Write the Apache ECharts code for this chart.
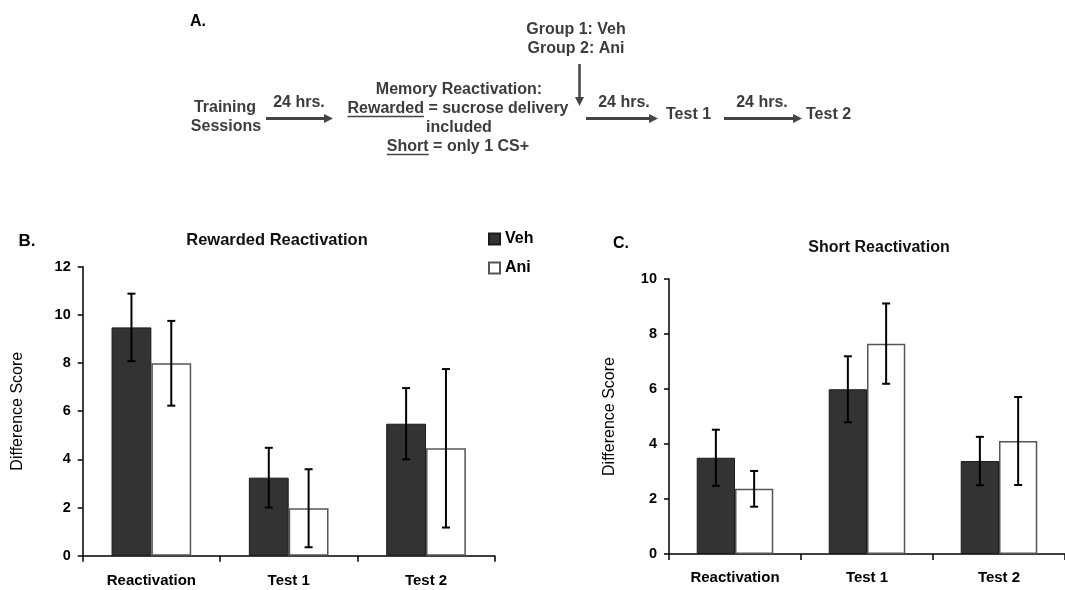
<!DOCTYPE html>
<html>
<head>
<meta charset="utf-8">
<script src="https://cdn.jsdelivr.net/npm/echarts@6/dist/echarts.min.js"></script>
<style>html,body{margin:0;padding:0;background:#fff}#c{width:1065px;height:590px}</style>
</head>
<body>
<div id="c"></div>
<script>
// ---- data ----
const categories = ['Reactivation', 'Test 1', 'Test 2'];
const rewardedVeh = [9.48, 3.24, 5.48];
const rewardedVehErr = [1.4, 1.24, 1.48];
const rewardedAni = [7.99, 1.97, 4.46];
const rewardedAniErr = [1.76, 1.62, 3.29];
const shortVeh = [3.5, 5.99, 3.38];
const shortVehErr = [1.02, 1.2, 0.88];
const shortAni = [2.37, 7.65, 4.11];
const shortAniErr = [0.65, 1.46, 1.6];
const rewardedTicks = {min: 0, max: 12, interval: 2};
const shortTicks = {min: 0, max: 10, interval: 2};

const FONT = '"Liberation Sans", Arial, sans-serif';
const GAP = 0.42;
const chart = echarts.init(document.getElementById('c'), null, {renderer: 'canvas'});

const mctx = document.createElement('canvas').getContext('2d');
function measure(text, size) { mctx.font = 'bold ' + size + 'px ' + FONT; return mctx.measureText(text).width; }

function errData(vals, errs) { return vals.map((v, i) => [i, v, errs[i]]); }
function errSeries(name, idx, vals, errs, sign) {
  return {
    type: 'custom', name: name + ' err', xAxisIndex: idx, yAxisIndex: idx, z: 5,
    data: errData(vals, errs),
    renderItem: function (params, api) {
      const ci = api.value(0), v = api.value(1), e = api.value(2);
      const band = api.size([1, 0])[0];
      const bw = band * (1 - GAP) / 2;
      const x = api.coord([ci, v])[0] + sign * bw / 2;
      const yt = api.coord([ci, v + e])[1];
      const yb = api.coord([ci, v - e])[1];
      const st = {stroke: '#000', lineWidth: 2};
      return {type: 'group', children: [
        {type: 'line', shape: {x1: x, y1: yt, x2: x, y2: yb}, style: st},
        {type: 'line', shape: {x1: x - 4, y1: yt, x2: x + 4, y2: yt}, style: st},
        {type: 'line', shape: {x1: x - 4, y1: yb, x2: x + 4, y2: yb}, style: st}
      ]};
    }
  };
}
function xAxis(idx, margin) {
  return {
    type: 'category', gridIndex: idx, data: categories,
    axisLine: {lineStyle: {color: '#000', width: 1.5}},
    axisTick: {show: true, length: 6, interval: 0, lineStyle: {color: '#000', width: 1.5}},
    axisLabel: {color: '#000', fontFamily: FONT, fontWeight: 'bold', fontSize: 15, margin: margin, interval: 0},
    splitLine: {show: false}
  };
}
function yAxis(idx, t, gap) {
  return {
    type: 'value', gridIndex: idx, min: t.min, max: t.max, interval: t.interval,
    name: 'Difference Score', nameLocation: 'middle', nameRotate: 90, nameGap: gap,
    nameTextStyle: {color: '#000', fontFamily: FONT, fontSize: 16},
    axisLine: {show: true, lineStyle: {color: '#000', width: 1.5}},
    axisTick: {show: true, length: 5, lineStyle: {color: '#000', width: 1.5}},
    axisLabel: {color: '#000', fontFamily: FONT, fontWeight: 'bold', fontSize: 14.5, margin: 12},
    splitLine: {show: false}
  };
}
const vehStyle = {color: '#333333', borderColor: '#1a1a1a', borderWidth: 1};
const aniStyle = {color: '#ffffff', borderColor: '#555555', borderWidth: 1.5};

const DS = 16; // diagram font size
const txt = (text, x, y, opt) => Object.assign({
  type: 'text', silent: true,
  style: Object.assign({text: text, x: x, y: y, fill: '#3c3c3c', fontFamily: FONT, fontWeight: 'bold', fontSize: DS,
    textAlign: 'center', align: 'center', textVerticalAlign: 'middle', verticalAlign: 'middle'}, opt || {})
});
const ln = (x1, y1, x2, y2, w) => ({type: 'line', silent: true, shape: {x1, y1, x2, y2}, style: {stroke: '#444', lineWidth: w}});
const head = (pts) => ({type: 'polygon', silent: true, shape: {points: pts}, style: {fill: '#444'}});
const rightArrow = (x1, x2, y) => [ln(x1, y, x2 - 7, y, 3), head([[x2 - 9, y - 4.5], [x2, y], [x2 - 9, y + 4.5]])];

// underlined word followed by rest of a centred line
function underlinedLine(word, rest, cx, y) {
  const w1 = measure(word, DS), w2 = measure(rest, DS);
  const x0 = cx - (w1 + w2) / 2;
  return [
    txt(word, x0, y, {textAlign: 'left', align: 'left'}),
    txt(rest, x0 + w1, y, {textAlign: 'left', align: 'left'}),
    ln(x0, y + 7.5, x0 + w1, y + 7.5, 1.5)
  ];
}

const graphics = [
  txt('A.', 198, 22, {fill: '#000', fontSize: 16}),
  txt('Training', 225, 108),
  txt('Sessions', 226, 127),
  ...rightArrow(266, 333, 118.5),
  txt('24 hrs.', 299, 103),
  txt('Memory Reactivation:', 459, 89.5),
  ...underlinedLine('Rewarded', ' = sucrose delivery', 458, 109),
  txt('included', 459, 128),
  ...underlinedLine('Short', ' = only 1 CS+', 458, 147),
  txt('Group 1: Veh', 576, 30),
  txt('Group 2: Ani', 576, 49),
  ln(579.5, 64, 579.5, 98, 2.5),
  head([[575, 97], [579.5, 106], [584, 97]]),
  ...rightArrow(586, 658, 118.5),
  txt('24 hrs.', 624, 103),
  txt('Test 1', 666, 115, {textAlign: 'left', align: 'left'}),
  ...rightArrow(724, 802, 118.5),
  txt('24 hrs.', 762, 103),
  txt('Test 2', 806, 115, {textAlign: 'left', align: 'left'}),
  txt('B.', 27, 241, {fill: '#000', fontSize: 17}),
  txt('Rewarded Reactivation', 277, 240, {fill: '#111', fontSize: 16.5}),
  txt('C.', 621, 244, {fill: '#000', fontSize: 16}),
  txt('Short Reactivation', 879, 248, {fill: '#111', fontSize: 16})
];

chart.setOption({
  animation: false,
  backgroundColor: '#fff',
  grid: [
    {left: 82.7, top: 266.7, width: 412, height: 289, containLabel: false},
    {left: 669, top: 279, width: 403, height: 275, containLabel: false}
  ],
  legend: {
    data: ['Veh', 'Ani'], orient: 'vertical', left: 483, top: 226, itemWidth: 11, itemHeight: 11, itemGap: 13,
    icon: 'rect', selectedMode: false, itemGap: 13,
    textStyle: {color: '#000', fontFamily: FONT, fontWeight: 'bold', fontSize: 16}
  },
  xAxis: [xAxis(0, 18), xAxis(1, 16)],
  yAxis: [yAxis(0, rewardedTicks, 57), yAxis(1, shortTicks, 51)],
  series: [
    {type: 'bar', name: 'Veh', xAxisIndex: 0, yAxisIndex: 0, data: rewardedVeh, barGap: '0%', barCategoryGap: '42%', itemStyle: vehStyle},
    {type: 'bar', name: 'Ani', xAxisIndex: 0, yAxisIndex: 0, data: rewardedAni, barGap: '0%', barCategoryGap: '42%', itemStyle: aniStyle},
    {type: 'bar', name: 'Veh', xAxisIndex: 1, yAxisIndex: 1, data: shortVeh, barGap: '0%', barCategoryGap: '42%', itemStyle: vehStyle},
    {type: 'bar', name: 'Ani', xAxisIndex: 1, yAxisIndex: 1, data: shortAni, barGap: '0%', barCategoryGap: '42%', itemStyle: aniStyle},
    errSeries('Veh', 0, rewardedVeh, rewardedVehErr, -1),
    errSeries('Ani', 0, rewardedAni, rewardedAniErr, 1),
    errSeries('Veh', 1, shortVeh, shortVehErr, -1),
    errSeries('Ani', 1, shortAni, shortAniErr, 1)
  ],
  graphic: {elements: graphics}
});
</script>
</body>
</html>
